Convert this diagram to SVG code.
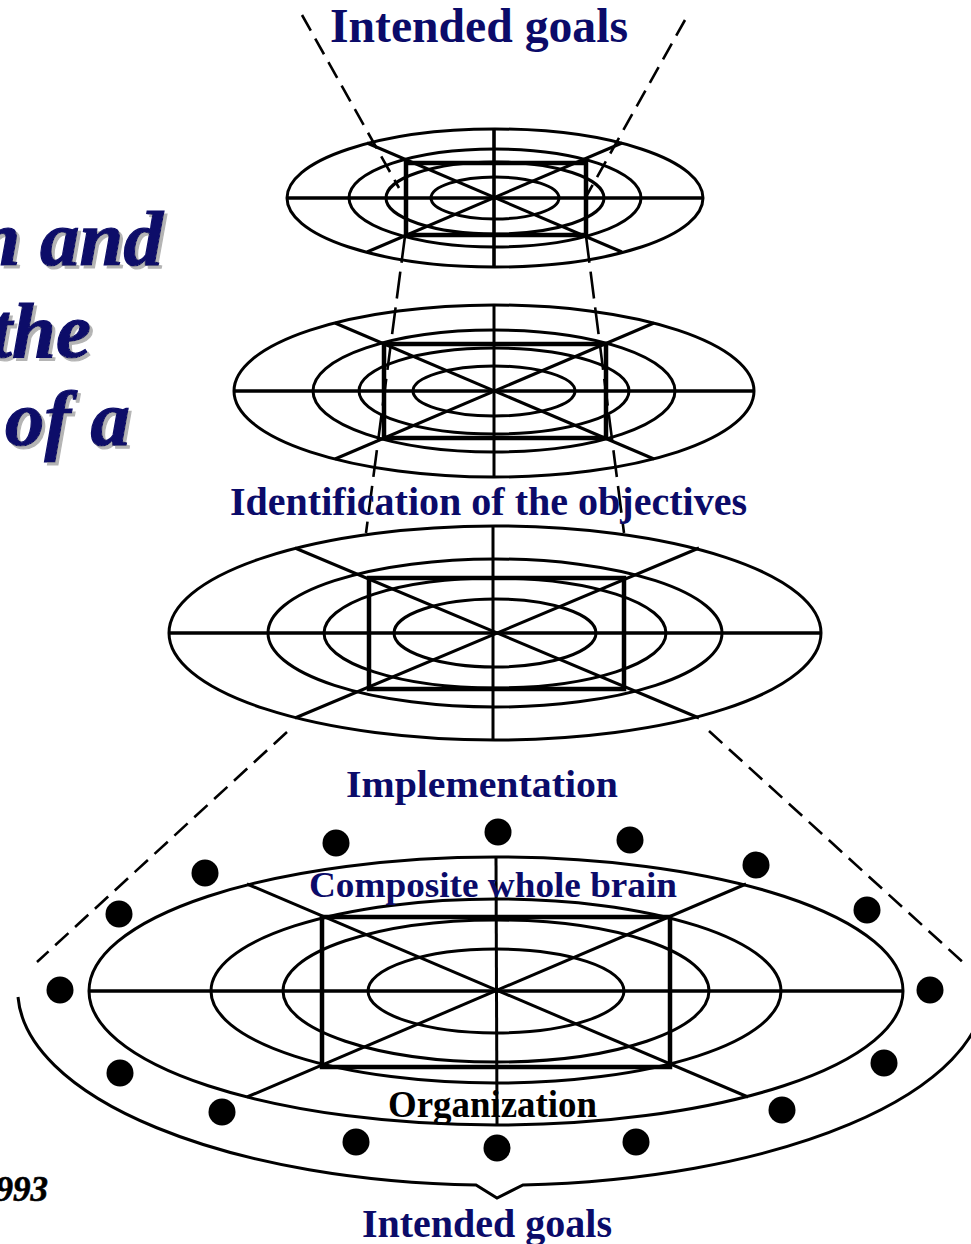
<svg xmlns="http://www.w3.org/2000/svg" width="971" height="1244" viewBox="0 0 971 1244">
<defs>
<filter id="shadow" x="-10%" y="-10%" width="130%" height="130%">
  <feOffset in="SourceAlpha" dx="3" dy="3" result="o"/>
  <feFlood flood-color="#b4b4b4" result="c"/>
  <feComposite in="c" in2="o" operator="in" result="s"/>
  <feMerge><feMergeNode in="s"/><feMergeNode in="SourceGraphic"/></feMerge>
</filter>
</defs>
<style>
.e{fill:none;stroke:#000;stroke-width:3}
.l{stroke:#000;stroke-width:3;stroke-linecap:butt}
.h{stroke:#000;stroke-width:3.6}
.r{fill:none;stroke:#000;stroke-width:4.5}
.d{fill:none;stroke:#000;stroke-width:2.6;stroke-dasharray:18 9}
.dl{fill:none;stroke:#000;stroke-width:2.6;stroke-dasharray:27 9}
.dot{fill:#000}
.lbl{font-family:"Liberation Serif","Times New Roman",serif;font-weight:bold;fill:#0b0b69}
.blk{font-family:"Liberation Serif","Times New Roman",serif;font-weight:bold;fill:#000}
.ttl{font-family:"Liberation Serif","Times New Roman",serif;font-weight:bold;font-style:italic;font-size:79px;text-anchor:end;fill:#0b0b69;stroke:#0b0b69;stroke-width:1.2}
</style>
<rect width="971" height="1244" fill="#fff"/>

<g id="title" filter="url(#shadow)">
  <text class="ttl" x="163" y="265">n and</text>
  <text class="ttl" x="91" y="357">the</text>
  <text class="ttl" x="130" y="445">of a</text>
</g>
<text x="48" y="1201" class="blk" font-style="italic" font-size="35" text-anchor="end" stroke="#000" stroke-width="0.6">993</text>

<g id="disc1">
  <ellipse class="e" cx="495" cy="198" rx="208" ry="69"/>
  <ellipse class="e" cx="495" cy="198" rx="146" ry="49"/>
  <ellipse class="e" cx="495" cy="198" rx="109" ry="36"/>
  <ellipse class="e" cx="495" cy="198" rx="64" ry="21"/>
  <line class="h" x1="287" y1="198" x2="703" y2="198"/>
  <line class="h" x1="494" y1="129" x2="494" y2="267"/>
  <line class="l" x1="367" y1="143" x2="622" y2="252"/>
  <line class="l" x1="367" y1="252" x2="622" y2="143"/>
  <rect class="r" x="406" y="163" width="180" height="72"/>
</g>

<g id="disc2">
  <ellipse class="e" cx="494" cy="391" rx="260" ry="86"/>
  <ellipse class="e" cx="494" cy="391" rx="181" ry="61"/>
  <ellipse class="e" cx="494" cy="391" rx="135" ry="43"/>
  <ellipse class="e" cx="494" cy="391" rx="81" ry="25"/>
  <line class="h" x1="234" y1="391" x2="755" y2="391"/>
  <line class="l" x1="494" y1="305" x2="494" y2="477"/>
  <line class="l" x1="335" y1="323" x2="654" y2="459"/>
  <line class="l" x1="335" y1="459" x2="654" y2="323"/>
  <rect class="r" x="384" y="344" width="222" height="94"/>
</g>

<g id="disc3">
  <ellipse class="e" cx="495" cy="633" rx="326" ry="107"/>
  <ellipse class="e" cx="495" cy="633" rx="227" ry="74"/>
  <ellipse class="e" cx="495" cy="633" rx="171" ry="55"/>
  <ellipse class="e" cx="495" cy="633" rx="101" ry="34"/>
  <line class="h" x1="169" y1="633" x2="821" y2="633"/>
  <line class="l" x1="493" y1="526" x2="493" y2="740"/>
  <line class="l" x1="295" y1="548" x2="699" y2="718"/>
  <line class="l" x1="295" y1="718" x2="699" y2="548"/>
  <rect class="r" x="369" y="578" width="255" height="111"/>
</g>

<g id="disc4">
  <ellipse class="e" cx="496" cy="991" rx="407" ry="134"/>
  <ellipse class="e" cx="496" cy="991" rx="285" ry="92"/>
  <ellipse class="e" cx="496" cy="991" rx="213" ry="71"/>
  <ellipse class="e" cx="496" cy="991" rx="128" ry="42"/>
  <line class="h" x1="89" y1="991" x2="903" y2="991"/>
  <line class="l" x1="496" y1="857" x2="497" y2="1125"/>
  <line class="l" x1="247" y1="884" x2="748" y2="1097"/>
  <line class="l" x1="247" y1="1097" x2="746" y2="884"/>
  <rect class="r" x="322" y="917" width="348" height="150"/>
</g>

<g id="dots">
  <circle class="dot" cx="60" cy="990" r="13.5"/>
  <circle class="dot" cx="119" cy="914" r="13.5"/>
  <circle class="dot" cx="205" cy="873" r="13.5"/>
  <circle class="dot" cx="336" cy="843" r="13.5"/>
  <circle class="dot" cx="498" cy="832" r="13.5"/>
  <circle class="dot" cx="630" cy="840" r="13.5"/>
  <circle class="dot" cx="756" cy="865" r="13.5"/>
  <circle class="dot" cx="867" cy="910" r="13.5"/>
  <circle class="dot" cx="930" cy="990" r="13.5"/>
  <circle class="dot" cx="884" cy="1063" r="13.5"/>
  <circle class="dot" cx="782" cy="1110" r="13.5"/>
  <circle class="dot" cx="636" cy="1142" r="13.5"/>
  <circle class="dot" cx="497" cy="1148" r="13.5"/>
  <circle class="dot" cx="356" cy="1142" r="13.5"/>
  <circle class="dot" cx="222" cy="1112" r="13.5"/>
  <circle class="dot" cx="120" cy="1073" r="13.5"/>
</g>

<g id="connectors">
  <line class="d" x1="302" y1="15" x2="399" y2="188"/>
  <line class="d" x1="685" y1="20" x2="587" y2="195"/>
  <line class="dl" x1="405" y1="236" x2="366" y2="533"/>
  <line class="dl" x1="586" y1="236" x2="624" y2="533"/>
  <line class="d" x1="287" y1="732" x2="37" y2="962"/>
  <line class="d" x1="709" y1="731" x2="966" y2="965"/>
  <path fill="none" stroke="#000" stroke-width="3" d="M18,997 A477,195 0 0 0 476,1185 L497,1198 L523,1185 A490,197 0 0 0 985,990"/>
</g>

<g id="labels">
  <text class="lbl" x="330" y="42" font-size="48" textLength="298" lengthAdjust="spacingAndGlyphs">Intended goals</text>
  <text class="lbl" x="230" y="515" font-size="41" textLength="517" lengthAdjust="spacingAndGlyphs">Identification of the objectives</text>
  <text class="lbl" x="346" y="797" font-size="38" textLength="272" lengthAdjust="spacingAndGlyphs">Implementation</text>
  <text class="lbl" x="309" y="897" font-size="36" textLength="368" lengthAdjust="spacingAndGlyphs">Composite whole brain</text>
  <text class="blk" x="388" y="1117" font-size="37" textLength="209" lengthAdjust="spacingAndGlyphs">Organization</text>
  <text class="lbl" x="362" y="1237" font-size="40" textLength="250" lengthAdjust="spacingAndGlyphs">Intended goals</text>
</g>
</svg>
